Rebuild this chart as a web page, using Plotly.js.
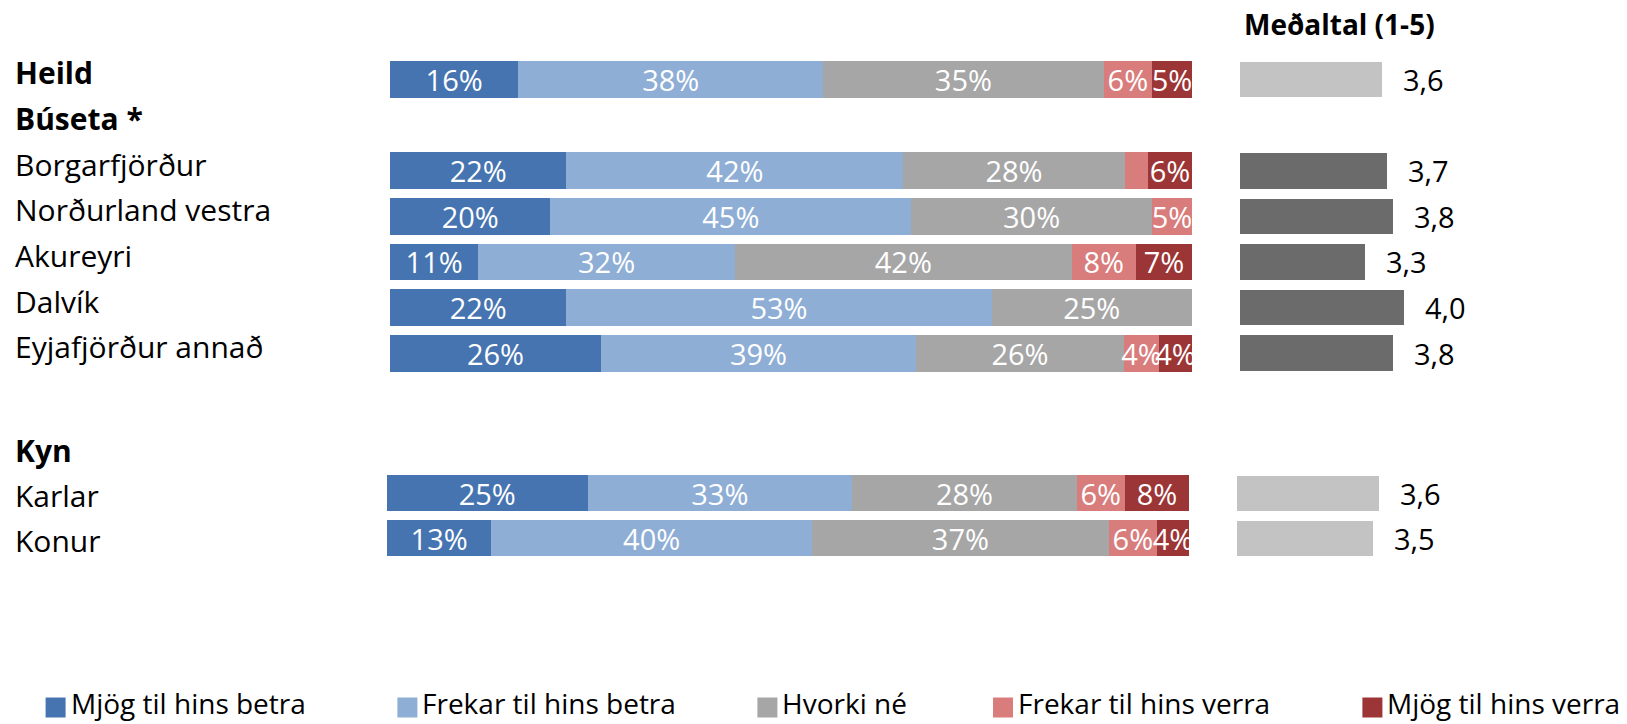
<!DOCTYPE html>
<html>
<head>
<meta charset="utf-8">
<script src="https://cdn.plot.ly/plotly-3.0.1.min.js"></script>
<style>
html,body{margin:0;padding:0;background:#fff;}
#chart{width:1627px;height:724px;}
</style>
</head>
<body>
<div id="chart"></div>
<script>
// ---- Data ----
const topRows = ['Heild','Búseta *','Borgarfjörður','Norðurland vestra','Akureyri','Dalvík','Eyjafjörður annað'];
const bottomRows = ['Kyn','Karlar','Konur'];
const headerRows = ['Heild','Búseta *','Kyn'];
const groups = ['Heild','Borgarfjörður','Norðurland vestra','Akureyri','Dalvík','Eyjafjörður annað','Karlar','Konur'];
const seriesNames = ['Mjög til hins betra','Frekar til hins betra','Hvorki né','Frekar til hins verra','Mjög til hins verra'];
const mjogBetra   = [16, 22,   20, 11, 22, 26.3, 25, 13];
const frekarBetra = [38, 42,   45, 32, 53, 39.3, 33, 40];
const hvorki      = [35, 27.6, 30, 42, 25, 25.9, 28, 37];
const frekarVerra = [ 6,  2.9,  5,  8,  0,  4.4,  6,  6];
const mjogVerra   = [ 5,  5.5,  0,  7,  0,  4.1,  8,  4];
const means       = [3.6, 3.7, 3.8, 3.3, 4.0, 3.8, 3.6, 3.5];
const meanGroupType = ['total','region','region','region','region','region','gender','gender'];
const meanTitle = 'Meðaltal (1-5)';

// ---- Styles ----
const FONT = '"Open Sans", sans-serif';
const seriesColors = ['#4674b0','#8eaed6','#a6a6a6','#d87c7c','#9c3535'];
const meanColors = {total:'#c3c3c3', region:'#6b6b6b', gender:'#c3c3c3'};
const W = 1627, H = 724;
const pxPerUnit = 54.5;
const sections = {
  top:    {rows: topRows,    yTop: 56.6,  yBot: 376.1, mainL: 390, mainR: 1192, meanL: 1240, xa: 'x',  xm: 'x2', ya: 'y',  ykey: 'yaxis',  labelShift: 6.5},
  bottom: {rows: bottomRows, yTop: 425.9, yBot: 560.5, mainL: 387, mainR: 1189, meanL: 1237, xa: 'x3', xm: 'x4', ya: 'y2', ykey: 'yaxis2', labelShift: -2.5}
};
const legendSquareX = [45.6, 397.4, 757.4, 993, 1362.4];
const legendSquareSize = 20;
const legendCenterY = 707.5;

const seriesVals = [mjogBetra, frekarBetra, hvorki, frekarVerra, mjogVerra];
const secOf = g => topRows.includes(g) ? 'top' : 'bottom';

const traces = [];
Object.keys(sections).forEach(sk => {
  const s = sections[sk];
  const idx = groups.map((g, i) => i).filter(i => secOf(groups[i]) === sk);
  seriesVals.forEach((vals, si) => {
    traces.push({
      type: 'bar', orientation: 'h',
      name: seriesNames[si],
      y: idx.map(i => groups[i]),
      x: idx.map(i => vals[i]),
      text: idx.map(i => vals[i] >= 3.5 ? Math.round(vals[i]) + '%' : ''),
      textposition: 'inside', insidetextanchor: 'middle',
      constraintext: 'none', textangle: 0,
      textfont: {family: FONT, size: 29, color: '#ffffff'},
      marker: {color: seriesColors[si], line: {width: 0}},
      width: 0.8, hoverinfo: 'skip',
      xaxis: s.xa, yaxis: s.ya, showlegend: false
    });
  });
  traces.push({
    type: 'bar', orientation: 'h',
    y: idx.map(i => groups[i]),
    x: idx.map(i => means[i]),
    marker: {color: idx.map(i => meanColors[meanGroupType[i]]), line: {width: 0}},
    width: 0.78, xaxis: s.xm, yaxis: s.ya, showlegend: false, hoverinfo: 'skip'
  });
});

const annotations = [];
const shapes = [];
Object.keys(sections).forEach(sk => {
  const s = sections[sk];
  s.rows.forEach(r => {
    annotations.push({
      xref: 'paper', yref: s.ya, x: 13 / W, y: r,
      xanchor: 'left', yanchor: 'middle', yshift: s.labelShift,
      text: headerRows.includes(r) ? '<b>' + r + '</b>' : r,
      showarrow: false,
      font: {family: FONT, size: 30, color: '#000000'}
    });
  });
});
groups.forEach((g, i) => {
  const s = sections[secOf(g)];
  annotations.push({
    xref: s.xm, yref: s.ya, x: means[i], y: g,
    xanchor: 'left', yanchor: 'middle', xshift: 19,
    text: means[i].toFixed(1).replace('.', ','),
    showarrow: false,
    font: {family: FONT, size: 29, color: '#000000'}
  });
});
annotations.push({
  xref: 'paper', yref: 'paper', x: 1242 / W, y: 1 - 24 / H,
  xanchor: 'left', yanchor: 'middle',
  text: '<b>' + meanTitle + '</b>',
  showarrow: false,
  font: {family: FONT, size: 28, color: '#000000'}
});
// legend (series names + colours)
seriesNames.forEach((n, si) => {
  const x0 = legendSquareX[si];
  shapes.push({
    type: 'rect', xref: 'paper', yref: 'paper', layer: 'above',
    x0: x0 / W, x1: (x0 + legendSquareSize) / W,
    y0: 1 - (legendCenterY + legendSquareSize / 2) / H, y1: 1 - (legendCenterY - legendSquareSize / 2) / H,
    fillcolor: seriesColors[si], line: {width: 0}
  });
  annotations.push({
    xref: 'paper', yref: 'paper',
    x: (x0 + legendSquareSize + 3) / W, y: 0,
    xanchor: 'left', yanchor: 'bottom',
    text: n, showarrow: false,
    font: {family: FONT, size: 28, color: '#000000'}
  });
});

const hiddenAxis = {showgrid: false, zeroline: false, showticklabels: false, showline: false, ticks: '', fixedrange: true};
const layout = {
  width: W, height: H,
  margin: {l: 0, r: 0, t: 0, b: 0},
  paper_bgcolor: '#ffffff', plot_bgcolor: 'rgba(0,0,0,0)',
  barmode: 'stack',
  font: {family: FONT, size: 28, color: '#000000'},
  annotations: annotations,
  shapes: shapes,
  showlegend: false
};
Object.keys(sections).forEach(sk => {
  const s = sections[sk];
  const xk = s.xa === 'x' ? 'xaxis' : 'xaxis' + s.xa.slice(1);
  const mk = 'xaxis' + s.xm.slice(1);
  layout[xk] = Object.assign({domain: [s.mainL / W, s.mainR / W], range: [0, 100], anchor: s.ya}, hiddenAxis);
  layout[mk] = Object.assign({domain: [s.meanL / W, 1], range: [1, 1 + (W - s.meanL) / pxPerUnit], anchor: s.ya}, hiddenAxis);
  layout[s.ykey] = Object.assign({
    domain: [(H - s.yBot) / H, (H - s.yTop) / H],
    type: 'category', categoryorder: 'array', categoryarray: s.rows,
    range: [s.rows.length - 0.5, -0.5], anchor: s.xa
  }, hiddenAxis);
});

Plotly.newPlot('chart', traces, layout, {displayModeBar: false, staticPlot: true});
</script>
</body>
</html>
